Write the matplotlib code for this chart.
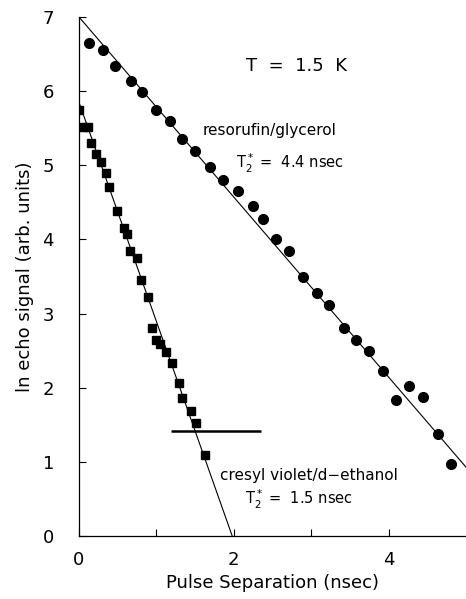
import matplotlib
matplotlib.use("Agg")
import matplotlib.pyplot as plt
from matplotlib.ticker import FixedLocator

# Data: resorufin/glycerol (circles)
res_x = [0.13, 0.31, 0.46, 0.67, 0.82, 1.00, 1.17, 1.33, 1.50, 1.69, 1.86, 2.06, 2.25,
         2.38, 2.54, 2.71, 2.89, 3.07, 3.23, 3.42, 3.58, 3.75, 3.93, 4.09, 4.27, 4.45,
         4.64, 4.81]
res_y = [6.65, 6.55, 6.34, 6.14, 5.99, 5.75, 5.60, 5.36, 5.19, 4.98, 4.80, 4.66, 4.45,
         4.27, 4.01, 3.84, 3.50, 3.28, 3.11, 2.81, 2.64, 2.49, 2.23, 1.84, 2.02, 1.87,
         1.38, 0.97]

# Data: cresyl violet/d-ethanol (squares)
cre_x = [0.00, 0.05, 0.11, 0.15, 0.22, 0.29, 0.35, 0.39, 0.49, 0.58, 0.62, 0.66, 0.75,
         0.80, 0.89, 0.94, 0.99, 1.05, 1.13, 1.20, 1.29, 1.33, 1.45, 1.51, 1.63]
cre_y = [5.75, 5.52, 5.52, 5.30, 5.15, 5.04, 4.89, 4.71, 4.39, 4.16, 4.07, 3.84, 3.75,
         3.45, 3.23, 2.80, 2.65, 2.59, 2.48, 2.33, 2.06, 1.86, 1.69, 1.53, 1.09]

# Fit lines (endpoints)
res_fit_x = [0.0, 5.0]
res_fit_y = [7.0, 0.93]
cre_fit_x = [0.0, 1.98]
cre_fit_y = [5.85, 0.0]

# Horizontal bar
bar_x = [1.19, 2.35]
bar_y = [1.42, 1.42]

x_major = [0, 2, 4]
x_minor = [1, 3]
y_ticks = [0, 1, 2, 3, 4, 5, 6, 7]

fig = plt.figure(figsize=(4.66, 5.99), dpi=100)
ax = fig.add_axes([0.1695, 0.105, 0.8305, 0.8666])

ax.plot(res_fit_x, res_fit_y, color="black", lw=0.8)
ax.plot(cre_fit_x, cre_fit_y, color="black", lw=0.8)
ax.plot(res_x, res_y, "o", color="black", ms=7.0, mec="black")
ax.plot(cre_x, cre_y, "s", color="black", ms=6.2, mec="black")
ax.plot(bar_x, bar_y, color="black", lw=1.8, solid_capstyle="butt")

ax.set_xlim(0, 5)
ax.set_ylim(0, 7)
ax.spines["top"].set_visible(False)
ax.spines["right"].set_visible(False)
ax.spines["left"].set_linewidth(0.9)
ax.spines["bottom"].set_linewidth(0.9)

ax.xaxis.set_major_locator(FixedLocator(x_major))
ax.xaxis.set_minor_locator(FixedLocator(x_minor))
ax.set_yticks(y_ticks)
ax.tick_params(axis="both", which="both", direction="in", length=5, width=0.8,
               labelsize=13)
ax.tick_params(axis="y", pad=18)
ax.tick_params(axis="x", pad=11)

ax.set_xlabel("Pulse Separation (nsec)", fontsize=13, labelpad=3)
ax.set_ylabel("ln echo signal (arb. units)", fontsize=13, labelpad=6)

ax.text(2.16, 6.34, "T  =  1.5  K", fontsize=13, va="center", ha="left")
ax.text(1.60, 5.47, "resorufin/glycerol", fontsize=11, va="center", ha="left")
ax.text(2.03, 5.03, r"T$_2^*$ =  4.4 nsec", fontsize=10.5, va="center", ha="left")
ax.text(1.82, 0.82, "cresyl violet/d\u2212ethanol", fontsize=11, va="center", ha="left")
ax.text(2.14, 0.50, r"T$_2^*$ =  1.5 nsec", fontsize=10.5, va="center", ha="left")

fig.savefig("out.png", dpi=100)
